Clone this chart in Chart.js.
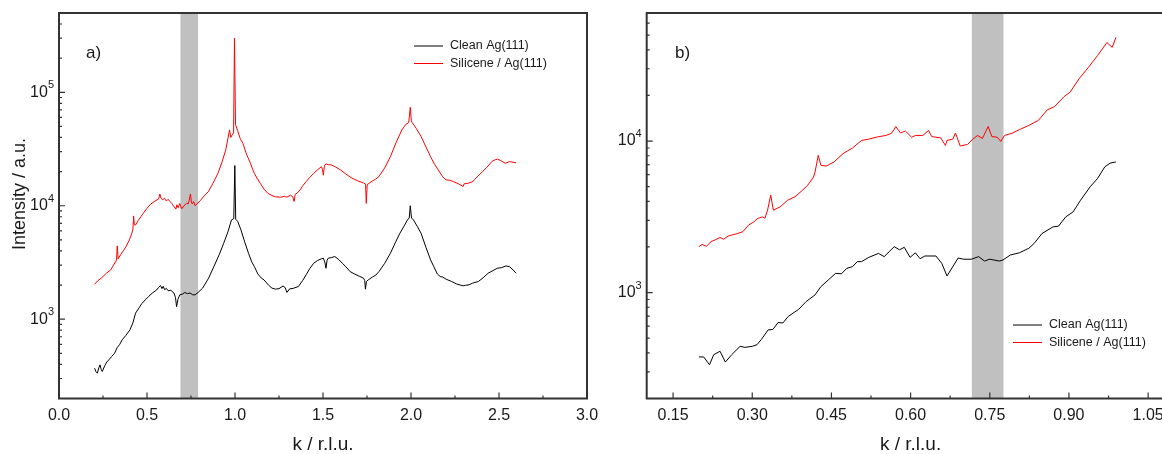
<!DOCTYPE html>
<html>
<head>
<meta charset="utf-8">
<title>Ag(111) / silicene CTR</title>
<script src="https://cdn.jsdelivr.net/npm/chart.js@4.4.1/dist/chart.umd.min.js"></script>
<style>
  html, body { margin: 0; padding: 0; background: #fff; overflow: hidden; }
  #wrap { position: relative; width: 1162px; height: 454px; overflow: hidden; }
  .panel { position: absolute; top: 0; width: 600px; height: 454px; }
  #panel-a { left: 0; }
  #panel-b { left: 600px; }
</style>
</head>
<body>
<div id="wrap">
  <div class="panel" id="panel-a"><canvas id="chart-a" width="600" height="454"></canvas></div>
  <div class="panel" id="panel-b"><canvas id="chart-b" width="600" height="454"></canvas></div>
</div>
<script>
// panel a) : full k range
const kCleanA = [
  0.202, 0.210, 0.218, 0.226, 0.233, 0.240, 0.246, 0.260, 0.272, 0.283,
  0.300, 0.316, 0.330, 0.345, 0.359, 0.380, 0.403, 0.420, 0.435, 0.455,
  0.470, 0.490, 0.510, 0.530, 0.555, 0.565, 0.577, 0.585, 0.592, 0.600,
  0.610, 0.620, 0.635, 0.653, 0.662, 0.668, 0.676, 0.686, 0.700, 0.715,
  0.730, 0.745, 0.760, 0.773, 0.790, 0.816, 0.850, 0.880, 0.910, 0.936,
  0.960, 0.980, 0.993, 0.999, 1.004, 1.015, 1.034, 1.055, 1.077, 1.095,
  1.110, 1.130, 1.150, 1.165, 1.190, 1.210, 1.230, 1.250, 1.273, 1.285,
  1.295, 1.310, 1.330, 1.360, 1.385, 1.404, 1.425, 1.447, 1.470, 1.490,
  1.502, 1.510, 1.517, 1.523, 1.530, 1.550, 1.567, 1.590, 1.610, 1.630,
  1.654, 1.680, 1.709, 1.730, 1.737, 1.741, 1.747, 1.757, 1.780, 1.800,
  1.818, 1.850, 1.883, 1.910, 1.937, 1.960, 1.980, 1.990, 1.996, 2.003,
  2.014, 2.035, 2.057, 2.085, 2.111, 2.130, 2.150, 2.166, 2.180, 2.200,
  2.231, 2.260, 2.280, 2.296, 2.310, 2.330, 2.350, 2.383, 2.410, 2.438,
  2.465, 2.490, 2.515, 2.540, 2.560, 2.580, 2.597
];
const cleanA = [
  370, 345, 334, 372, 396, 360, 346, 390, 420, 438,
  470, 502, 560, 600, 658, 720, 805, 930, 1130, 1260,
  1370, 1480, 1590, 1700, 1810, 1900, 1980, 1860, 1950, 1820,
  1870, 1780, 1800, 1700, 1550, 1290, 1500, 1640, 1660, 1720,
  1680, 1700, 1640, 1640, 1720, 1880, 2300, 2910, 3700, 4680,
  5900, 7500, 7700, 22600, 7600, 7300, 6120, 4800, 3800, 3200,
  2910, 2500, 2300, 2220, 2000, 1880, 1840, 1860, 1960, 1900,
  1720, 1850, 1870, 1940, 2200, 2460, 2800, 3110, 3300, 3400,
  3450, 3200, 2810, 3300, 3450, 3500, 3570, 3350, 3110, 2900,
  2630, 2500, 2380, 2300, 2200, 1840, 2150, 2220, 2350, 2450,
  2630, 3100, 3810, 4700, 5730, 6600, 7500, 7800, 10000, 7800,
  7500, 6600, 5730, 4300, 3340, 2900, 2500, 2380, 2350, 2250,
  2150, 2040, 2000, 1970, 1990, 2010, 2080, 2150, 2320, 2540,
  2680, 2810, 2850, 2950, 2900, 2720, 2540
];
const kSilA = [
  0.202, 0.220, 0.240, 0.250, 0.270, 0.294, 0.310, 0.327, 0.331, 0.336,
  0.350, 0.365, 0.381, 0.400, 0.414, 0.420, 0.424, 0.428, 0.435, 0.450,
  0.465, 0.479, 0.500, 0.522, 0.545, 0.566, 0.573, 0.580, 0.590, 0.599,
  0.610, 0.620, 0.631, 0.640, 0.650, 0.664, 0.670, 0.677, 0.686, 0.697,
  0.710, 0.725, 0.735, 0.747, 0.752, 0.757, 0.765, 0.773, 0.790, 0.805,
  0.825, 0.849, 0.875, 0.903, 0.925, 0.947, 0.969, 0.976, 0.984, 0.992,
  0.997, 1.003, 1.015, 1.030, 1.045, 1.065, 1.088, 1.100, 1.110, 1.125,
  1.143, 1.165, 1.186, 1.210, 1.230, 1.260, 1.280, 1.295, 1.315, 1.328,
  1.336, 1.342, 1.355, 1.370, 1.385, 1.404, 1.425, 1.447, 1.470, 1.491,
  1.497, 1.502, 1.508, 1.517, 1.530, 1.545, 1.570, 1.600, 1.630, 1.665,
  1.700, 1.730, 1.742, 1.746, 1.751, 1.757, 1.780, 1.800, 1.818, 1.850,
  1.883, 1.915, 1.948, 1.970, 1.987, 1.996, 2.002, 2.007, 2.030, 2.057,
  2.085, 2.111, 2.135, 2.155, 2.180, 2.199, 2.220, 2.242, 2.270, 2.296,
  2.302, 2.325, 2.351, 2.360, 2.380, 2.405, 2.430, 2.460, 2.480, 2.492,
  2.510, 2.536, 2.560, 2.580, 2.597
];
const silA = [
  2030, 2180, 2300, 2380, 2550, 2720, 3000, 3320, 4430, 3400,
  3700, 4000, 4370, 5000, 5730, 6200, 8130, 6800, 6770, 7400,
  8000, 8590, 9500, 10370, 11000, 11480, 12700, 11600, 11300, 11650,
  11000, 11400, 10900, 10500, 10000, 9330, 10200, 9600, 10470, 9400,
  10000, 10500, 10400, 12700, 10800, 10400, 10900, 10000, 10600, 11200,
  12200, 13330, 15800, 19300, 24000, 30900, 46600, 40000, 42100, 44000,
  299000, 52000, 46000, 39000, 35500, 28500, 23700, 21000, 19300, 17500,
  15800, 14000, 12900, 12300, 12000, 11900, 12100, 11900, 12400, 12000,
  10900, 12600, 13000, 13800, 15000, 16300, 17800, 19300, 20800, 22100,
  21000, 18600, 22500, 23400, 23000, 23000, 22000, 20700, 19000, 17500,
  16500, 15900, 15500, 10500, 15200, 15600, 16500, 17200, 18100, 21500,
  27100, 36000, 46600, 52000, 54100, 73800, 56000, 54100, 48000, 40800,
  33000, 27100, 23000, 20700, 18000, 16900, 16800, 16300, 15600, 14800,
  15600, 15800, 16300, 17000, 18200, 19900, 21700, 24600, 25500, 25700,
  25000, 23700, 24500, 24200, 23900
];

// panel b) : low-k part
const kCleanB = [
  0.199, 0.208, 0.219, 0.227, 0.239, 0.249, 0.261, 0.277, 0.286, 0.300,
  0.309, 0.317, 0.330, 0.339, 0.349, 0.358, 0.368, 0.388, 0.402, 0.419,
  0.430, 0.444, 0.458, 0.469, 0.479, 0.490, 0.499, 0.507, 0.521, 0.539,
  0.550, 0.569, 0.579, 0.588, 0.599, 0.609, 0.618, 0.627, 0.648, 0.659,
  0.669, 0.683, 0.690, 0.701, 0.715, 0.729, 0.740, 0.750, 0.768, 0.775,
  0.789, 0.806, 0.824, 0.834, 0.849, 0.870, 0.880, 0.894, 0.908, 0.922,
  0.940, 0.954, 0.968, 0.978, 0.989
];
const cleanB = [
  376, 376, 334, 389, 410, 348, 389, 442, 435, 442,
  453, 489, 567, 571, 635, 630, 695, 776, 872, 966,
  1095, 1211, 1340, 1330, 1446, 1483, 1600, 1600, 1708, 1814,
  1727, 2010, 1915, 1990, 1708, 1830, 1673, 1744, 1744, 1560,
  1287, 1544, 1690, 1660, 1660, 1727, 1615, 1660, 1615, 1640,
  1770, 1830, 1960, 2110, 2454, 2717, 2740, 3160, 3410, 4070,
  4980, 5650, 6760, 7150, 7280
];
const kSilB = [
  0.199, 0.205, 0.213, 0.222, 0.230, 0.239, 0.246, 0.254, 0.272, 0.282,
  0.293, 0.303, 0.310, 0.319, 0.324, 0.329, 0.335, 0.340, 0.353, 0.367,
  0.381, 0.395, 0.405, 0.416, 0.419, 0.425, 0.430, 0.440, 0.455, 0.472,
  0.490, 0.507, 0.521, 0.535, 0.553, 0.564, 0.572, 0.581, 0.590, 0.602,
  0.609, 0.623, 0.634, 0.640, 0.648, 0.657, 0.666, 0.669, 0.680, 0.685,
  0.694, 0.708, 0.718, 0.727, 0.736, 0.747, 0.754, 0.764, 0.771, 0.778,
  0.792, 0.806, 0.824, 0.842, 0.859, 0.873, 0.891, 0.902, 0.919, 0.937,
  0.954, 0.972, 0.982, 0.989
];
const silB = [
  2010, 2080, 2020, 2170, 2230, 2310, 2250, 2360, 2454, 2520,
  2790, 2930, 3080, 3160, 3100, 3500, 4400, 3500, 3680, 4070,
  4290, 4730, 5110, 5790, 6250, 8050, 6920, 6840, 7280, 8260,
  9000, 10090, 10300, 10610, 10890, 11250, 12470, 11300, 11650, 10600,
  10890, 10890, 11750, 10700, 10600, 10500, 9360, 10100, 10300, 11300,
  9270, 9500, 10300, 10890, 10400, 12470, 10700, 10600, 9950, 10890,
  11250, 11890, 12690, 13680, 16070, 16900, 19670, 20990, 25700, 30670,
  36600, 44700, 41500, 48300
];

const seriesNames = ['Clean Ag(111)', 'Silicene / Ag(111)'];
const seriesColors = ['#000000', '#ff0000'];

// shaded k windows
const bandA = [0.69, 0.79];
const bandB = [0.716, 0.776];

// axis ticks
const xTicksA = [0, 0.5, 1, 1.5, 2, 2.5, 3];
const xMinorA = [0.25, 0.75, 1.25, 1.75, 2.25, 2.75];
const xTicksB = [0.15, 0.30, 0.45, 0.60, 0.75, 0.90, 1.05];
const xMinorB = [0.225, 0.375, 0.525, 0.675, 0.825, 0.975];
const yDecadesA = [1e3, 1e4, 1e5];
const yDecadesB = [1e3, 1e4];

const FONT = 'Arial, "Liberation Sans", Helvetica, sans-serif';
const AXIS = '#333333';
const TEXT = '#1a1a1a';

const toPoints = (ks, vals) => ks.map((k, i) => ({ x: k, y: vals[i] }));

// frame, inward ticks, log labels, shaded band, legend and panel letter
const frameTicks = {
  id: 'frameTicks',
  beforeDatasetsDraw(chart, args, o) {
    const { ctx, chartArea: a, scales: { x } } = chart;
    const x0 = x.getPixelForValue(o.band[0]);
    const x1 = x.getPixelForValue(o.band[1]);
    ctx.save();
    ctx.fillStyle = '#c0c0c0';
    ctx.fillRect(x0, a.top, x1 - x0, a.bottom - a.top);
    ctx.restore();
  },
  afterDraw(chart, args, o) {
    const { ctx, chartArea: a, scales: { x, y } } = chart;
    ctx.save();

    ctx.strokeStyle = AXIS;
    ctx.lineWidth = 2;
    ctx.strokeRect(a.left, a.top, a.right - a.left, a.bottom - a.top);

    ctx.lineWidth = 1.2;
    ctx.beginPath();
    o.xMajor.forEach(v => {
      const px = x.getPixelForValue(v);
      ctx.moveTo(px, a.bottom); ctx.lineTo(px, a.bottom - 6);
    });
    o.xMinor.forEach(v => {
      const px = x.getPixelForValue(v);
      ctx.moveTo(px, a.bottom); ctx.lineTo(px, a.bottom - 3);
    });
    const lo = Math.floor(Math.log10(y.min));
    const hi = Math.ceil(Math.log10(y.max));
    for (let d = lo; d <= hi; d++) {
      for (let m = 1; m <= 9; m++) {
        const v = m * Math.pow(10, d);
        if (v < y.min || v > y.max) continue;
        const py = y.getPixelForValue(v);
        ctx.moveTo(a.left, py); ctx.lineTo(a.left + (m === 1 ? 6 : 3), py);
      }
    }
    ctx.stroke();

    // decade labels 10^n
    ctx.fillStyle = TEXT;
    ctx.textBaseline = 'middle';
    o.yDecades.forEach(v => {
      const py = y.getPixelForValue(v);
      const e = String(Math.round(Math.log10(v)));
      ctx.font = '11px ' + FONT;
      const ew = ctx.measureText(e).width;
      ctx.textAlign = 'left';
      ctx.fillText(e, a.left - 5 - ew, py - 7);
      ctx.font = '16px ' + FONT;
      ctx.textAlign = 'right';
      ctx.fillText('10', a.left - 5 - ew, py);
    });

    // axis titles
    ctx.font = '19px ' + FONT;
    ctx.textAlign = 'center';
    ctx.fillText('k / r.l.u.', (a.left + a.right) / 2, 445);
    if (o.yTitle) {
      ctx.save();
      ctx.translate(20, 194);
      ctx.rotate(-Math.PI / 2);
      ctx.font = '18px ' + FONT;
      ctx.fillText(o.yTitle, 0, 0);
      ctx.restore();
    }

    // panel letter
    ctx.font = '17px ' + FONT;
    ctx.textAlign = 'left';
    ctx.textBaseline = 'alphabetic';
    ctx.fillText(o.letter, o.letterAt[0], o.letterAt[1]);

    // legend
    ctx.font = '12.5px ' + FONT;
    ctx.textBaseline = 'middle';
    seriesNames.forEach((name, i) => {
      const ly = o.legendAt[1] + i * 17.5;
      ctx.strokeStyle = seriesColors[i];
      ctx.lineWidth = 1;
      ctx.beginPath();
      ctx.moveTo(o.legendAt[0], ly); ctx.lineTo(o.legendAt[0] + 29, ly);
      ctx.stroke();
      ctx.fillStyle = TEXT;
      ctx.fillText(name, o.legendAt[0] + 36, ly);
    });

    ctx.restore();
  }
};

const makePanel = (canvasId, cfg) => new Chart(document.getElementById(canvasId), {
  type: 'line',
  data: {
    datasets: [
      {
        label: seriesNames[0],
        data: toPoints(cfg.kClean, cfg.clean),
        borderColor: seriesColors[0],
        borderWidth: 1,
        pointRadius: 0,
        tension: 0
      },
      {
        label: seriesNames[1],
        data: toPoints(cfg.kSil, cfg.sil),
        borderColor: seriesColors[1],
        borderWidth: 1,
        pointRadius: 0,
        tension: 0
      }
    ]
  },
  options: {
    responsive: false,
    animation: false,
    events: [],
    layout: { padding: { top: 13, right: cfg.padRight, left: 0, bottom: 0 } },
    plugins: {
      legend: { display: false },
      tooltip: { enabled: false },
      frameTicks: {
        band: cfg.band,
        xMajor: cfg.xTicks,
        xMinor: cfg.xMinor,
        yDecades: cfg.yDecades,
        yTitle: cfg.yTitle,
        letter: cfg.letter,
        letterAt: cfg.letterAt,
        legendAt: cfg.legendAt
      }
    },
    scales: {
      x: {
        type: 'linear',
        min: cfg.xMin,
        max: cfg.xMax,
        grid: { display: false },
        border: { display: false },
        afterBuildTicks: s => { s.ticks = cfg.xTicks.map(v => ({ value: v })); },
        afterFit: s => { s.height = 55.5; },
        ticks: {
          autoSkip: false,
          maxRotation: 0,
          padding: -1,
          color: TEXT,
          font: { family: FONT, size: 16 },
          callback: v => v.toFixed(cfg.digits)
        }
      },
      y: {
        type: 'logarithmic',
        min: cfg.yMin,
        max: cfg.yMax,
        grid: { display: false },
        border: { display: false },
        ticks: { display: false },
        afterFit: s => { s.width = cfg.axisLeft; }
      }
    }
  },
  plugins: [frameTicks]
});

makePanel('chart-a', {
  kClean: kCleanA, clean: cleanA, kSil: kSilA, sil: silA,
  xMin: 0, xMax: 3, yMin: 200, yMax: 500000,
  xTicks: xTicksA, xMinor: xMinorA, yDecades: yDecadesA, digits: 1,
  band: bandA, axisLeft: 59, padRight: 13,
  yTitle: 'Intensity / a.u.', letter: 'a)', letterAt: [86, 58], legendAt: [414, 46]
});

makePanel('chart-b', {
  kClean: kCleanB, clean: cleanB, kSil: kSilB, sil: silB,
  xMin: 0.1, xMax: 1.1, yMin: 200, yMax: 70000,
  xTicks: xTicksB, xMinor: xMinorB, yDecades: yDecadesB, digits: 2,
  band: bandB, axisLeft: 46.7, padRight: 25.5,
  yTitle: null, letter: 'b)', letterAt: [75, 58], legendAt: [413, 325]
});
</script>
</body>
</html>
